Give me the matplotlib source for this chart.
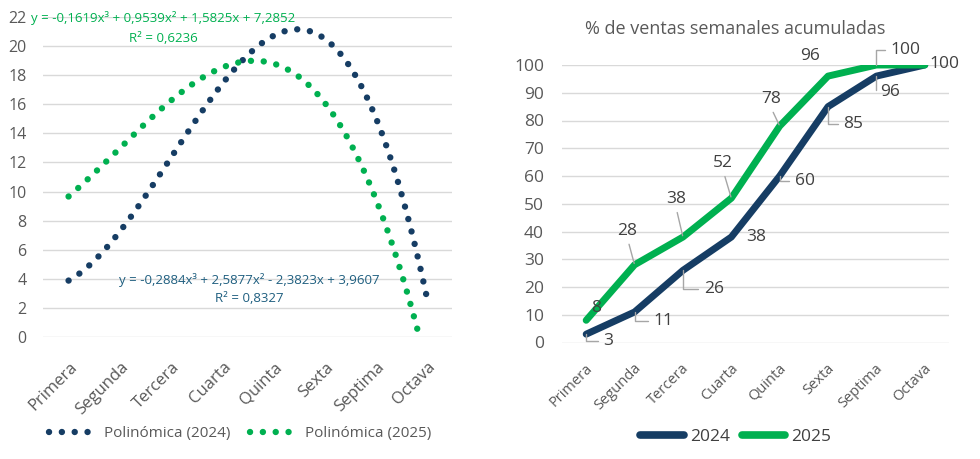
import numpy as np
import matplotlib
matplotlib.use('Agg')
import matplotlib.pyplot as plt
from matplotlib.transforms import ScaledTranslation

plt.rcParams['font.family'] = ['Open Sans', 'DejaVu Sans']

# datos
semanas = ['Primera', 'Segunda', 'Tercera', 'Cuarta', 'Quinta', 'Sexta', 'Septima', 'Octava']
acum_2024 = [3, 11, 26, 38, 60, 85, 96, 100]
acum_2025 = [8, 28, 38, 52, 78, 96, 100, 100]

# líneas de tendencia polinómicas (grado 3), coeficientes tal como aparecen en el gráfico
coef_2024 = [-0.2884, 2.5877, -2.3823, 3.9607]
coef_2025 = [-0.1619, 0.9539, 1.5825, 7.2852]
r2_2024 = 0.8327
r2_2025 = 0.6236

azul = '#163D64'
verde = '#00B050'
gris = '#595959'
rejilla = '#D9D9D9'


def num(v):
    return f'{abs(v):.4f}'.replace('.', ',')


def ecuacion(c):
    s = 'y = ' + ('-' if c[0] < 0 else '') + num(c[0]) + 'x³'
    for v, p in zip(c[1:], ['x²', 'x', '']):
        s += (' - ' if v < 0 else ' + ') + num(v) + p
    return s


fig = plt.figure(figsize=(9.8, 4.59), dpi=100)
fig.patch.set_facecolor('white')

# ---------------- izquierda: tendencias ----------------
ax1 = fig.add_axes([43 / 980, 1 - 337 / 459, (452 - 43) / 980, (337 - 17) / 459])
x = np.arange(1, len(semanas) + 1)
xs = np.linspace(1, len(semanas), 400)
l24, = ax1.plot(xs, np.polyval(coef_2024, xs), color=azul, lw=4.6,
                linestyle=(0, (0.01, 2.0)), dash_capstyle='round')
l25, = ax1.plot(xs, np.polyval(coef_2025, xs), color=verde, lw=4.6,
                linestyle=(0, (0.01, 2.0)), dash_capstyle='round')
ax1.set_xlim(0.5, len(semanas) + 0.5)
ax1.set_ylim(0, 22)
ax1.set_yticks(np.arange(0, 23, 2))
ax1.set_xticks(x)
ax1.set_xticklabels(semanas, rotation=45, ha='right', rotation_mode='anchor', va='top')
ax1.tick_params(axis='both', length=0, labelcolor=gris)
ax1.tick_params(axis='y', pad=12, labelsize=11.5)
ax1.tick_params(axis='x', pad=16, labelsize=12)
for lab in ax1.get_xticklabels():
    lab.set_transform(lab.get_transform() + ScaledTranslation(1 / 100, 0, fig.dpi_scale_trans))
ax1.grid(axis='y', color=rejilla, lw=1)
ax1.set_axisbelow(True)
for s in ax1.spines.values():
    s.set_visible(False)

fig.text(163 / 980, 1 - 18 / 459, ecuacion(coef_2025), color=verde, fontsize=9.5,
         ha='center', va='center')
fig.text(163 / 980, 1 - 38 / 459, 'R² = ' + num(r2_2025), color=verde, fontsize=9.5,
         ha='center', va='center')
fig.text(249 / 980, 1 - 280 / 459, ecuacion(coef_2024), color='#1F5F80', fontsize=9.5,
         ha='center', va='center')
fig.text(249 / 980, 1 - 299 / 459, 'R² = ' + num(r2_2024), color='#1F5F80', fontsize=9.5,
         ha='center', va='center')

fig.legend([l24, l25], ['Polinómica (2024)', 'Polinómica (2025)'], loc='center',
           bbox_to_anchor=(240 / 980, 1 - 434 / 459), ncol=2, frameon=False,
           fontsize=11, handlelength=2.7, handletextpad=0.9, columnspacing=1.3,
           labelcolor=gris)

# ---------------- derecha: acumulado ----------------
ax2 = fig.add_axes([562 / 980, 1 - 342.5 / 459, (949 - 562) / 980, (342.5 - 65) / 459])
ax2.plot(x, acum_2024, color=azul, lw=5, solid_joinstyle='round', solid_capstyle='round',
         label='2024')
ax2.plot(x, acum_2025, color=verde, lw=5, solid_joinstyle='round', solid_capstyle='round',
         label='2025')
ax2.set_xlim(0.5, len(semanas) + 0.5)
ax2.set_ylim(0, 100)
ax2.set_yticks(np.arange(0, 101, 10))
ax2.set_xticks(x)
ax2.set_xticklabels(semanas, rotation=45, ha='right', rotation_mode='anchor', va='top')
ax2.tick_params(axis='both', length=0, labelcolor=gris)
ax2.tick_params(axis='y', labelsize=12.5, pad=13)
ax2.tick_params(axis='x', labelsize=10.5, pad=13)
for lab in ax2.get_xticklabels():
    lab.set_transform(lab.get_transform() + ScaledTranslation(-1 / 100, 0, fig.dpi_scale_trans))
ax2.grid(axis='y', color=rejilla, lw=1)
ax2.set_axisbelow(True)
for s in ax2.spines.values():
    s.set_visible(False)

fig.text(735 / 980, 1 - 29 / 459, '% de ventas semanales acumuladas', color=gris,
         fontsize=13, ha='center', va='center')

# etiquetas de datos: desplazamiento en píxeles (None = sin etiqueta) y tipo de línea guía
pos_2024 = [(22, -7), (29, -9), (31, -19), (25, 0), (25, -5), (25, -17), (14, -16), (20, 1)]
guia_2024 = ['codo', 'codo', 'codo', None, 'codo', 'codo', 'codo', None]
pos_2025 = [(10, 12), (-7, 34), (-7, 38), (-8, 35), (-9, 27), (-18, 20), (29, 15), None]
guia_2025 = [None, 'recta', 'recta', 'recta', 'recta', None, 'codo', None]


def etiquetas(valores, posiciones, guias):
    for i, (v, pos, g) in enumerate(zip(valores, posiciones, guias)):
        if pos is None:
            continue
        arrow = None
        if g == 'codo':
            arrow = dict(arrowstyle='-', color='#A6A6A6', lw=1, relpos=(0, 0.5),
                         connectionstyle='angle,angleA=0,angleB=90,rad=0',
                         shrinkA=2, shrinkB=0)
        elif g == 'recta':
            arrow = dict(arrowstyle='-', color='#A6A6A6', lw=1, relpos=(0.5, 0),
                         shrinkA=2, shrinkB=1)
        ax2.annotate(str(v), xy=(x[i], v), xytext=pos, textcoords='offset pixels',
                     ha='center', va='center', fontsize=12.5, color='#404040',
                     arrowprops=arrow, annotation_clip=False)


etiquetas(acum_2024, pos_2024, guia_2024)
etiquetas(acum_2025, pos_2025, guia_2025)

leg = fig.legend(*ax2.get_legend_handles_labels(), loc='center',
                 bbox_to_anchor=(736 / 980, 1 - 437 / 459), ncol=2, frameon=False,
                 fontsize=12.5, handlelength=2.5, handletextpad=0.35, columnspacing=0.7,
                 labelcolor='#404040')
for h in leg.legend_handles:
    h.set_linewidth(5.5)

fig.savefig('out.png', dpi=100, facecolor='white')
